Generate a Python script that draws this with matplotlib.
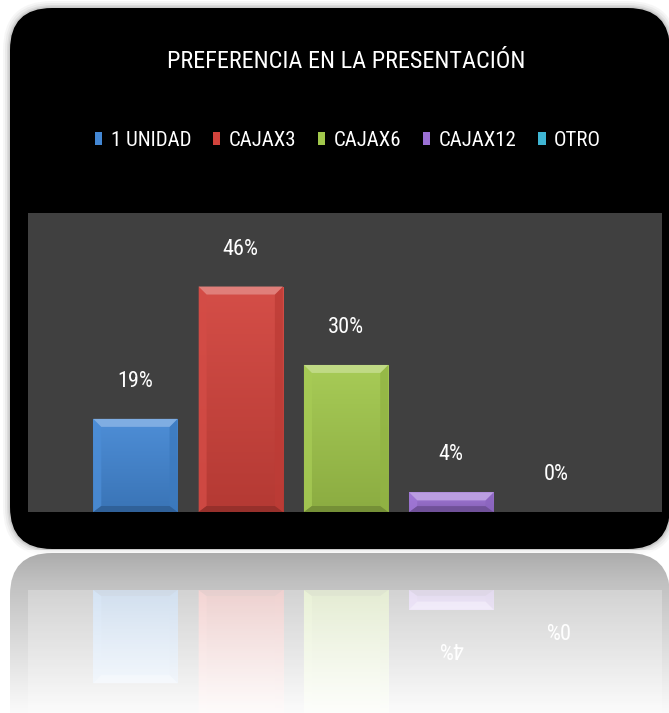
import numpy as np
import matplotlib
matplotlib.use("Agg")
import matplotlib.pyplot as plt
from matplotlib.patches import FancyBboxPatch, Polygon, Patch
from matplotlib import font_manager
from matplotlib.colors import to_rgb

# ---- data ---------------------------------------------------------------
title = "PREFERENCIA EN LA PRESENTACIÓN"
categories = ["1 UNIDAD", "CAJAX3", "CAJAX6", "CAJAX12", "OTRO"]
values = [19, 46, 30, 4, 0]          # percent of answers
colors = ["#4387d4", "#d2433c", "#a2c84c", "#9b70d4", "#3fb5d3"]
y_max = 61

# ---- fonts --------------------------------------------------------------
_names = {f.name for f in font_manager.fontManager.ttflist}
NARROW = next((n for n in ["Liberation Sans Narrow", "DejaVu Sans Condensed",
                           "Roboto Condensed", "Open Sans Condensed"]
               if n in _names), "Liberation Sans")

W, H = 669, 713
fig = plt.figure(figsize=(W / 100, H / 100), dpi=100, facecolor="white")


def frac(x0, y0, x1, y1):
    """pixel box (top-left origin) -> figure fraction rect"""
    return [x0 / W, 1 - y1 / H, (x1 - x0) / W, (y1 - y0) / H]


# ---- background panel (pixel space) ------------------------------------
bg = fig.add_axes([0, 0, 1, 1])
bg.set_xlim(0, W)
bg.set_ylim(H, 0)
bg.axis("off")

# soft halo around the black card
for pad, a in [(7, 0.05), (5, 0.07), (3, 0.10), (1.5, 0.14)]:
    bg.add_patch(FancyBboxPatch((10, 8), 660, 541,
                                boxstyle=f"round,pad={pad},rounding_size={42 + pad}",
                                facecolor="#606060", edgecolor="none", alpha=a))
bg.add_patch(FancyBboxPatch((10, 8), 660, 541,
                            boxstyle="round,pad=0,rounding_size=42",
                            facecolor="black", edgecolor="none"))
# mirrored card below
bg.add_patch(FancyBboxPatch((10, 553), 660, 400,
                            boxstyle="round,pad=0,rounding_size=42",
                            facecolor="black", edgecolor="none"))

fig.text(346 / W, 1 - 62 / H, title, color="white", ha="center", va="center",
         fontsize=17.5, family=NARROW)

handles = [Patch(facecolor=c, edgecolor="none") for c in colors]
fig.legend(handles, categories, loc="center", bbox_to_anchor=(348 / W, 1 - 140 / H),
           ncol=5, frameon=False, handlelength=0.35, handleheight=0.6,
           handletextpad=0.4, columnspacing=1.05, labelcolor="white",
           prop={"family": NARROW, "size": 15})

x = np.arange(len(categories))
BAR_W = 0.8
AX_TOP, AX_BOT = 213, 512          # pixel rows of the plot area
REF_TOP = 590                      # baseline row of the reflection


def shade(c, f):
    r = np.array(to_rgb(c))
    return tuple(np.clip(r + (1 - r) * f if f > 0 else r * (1 + f), 0, 1))


def draw_chart(ax, mirrored=False):
    ax.set_facecolor("#404040")
    for s in ax.spines.values():
        s.set_visible(False)
    ax.set_xticks([])
    ax.set_yticks([])

    pos = ax.get_position()
    wpx, hpx = pos.width * W, pos.height * H
    dx = 8 * 6.02 / wpx
    dy_top = 8 * y_max / hpx
    dy_bot = 6 * y_max / hpx

    bars = ax.bar(x, values, width=BAR_W, color=colors, linewidth=0, zorder=2)
    for xi, v, c, b in zip(x, values, colors, bars):
        if v <= 0:
            continue
        x0, x1 = xi - BAR_W / 2, xi + BAR_W / 2
        grad = np.linspace(0, 1, 64)[:, None, None]
        top_c = np.array(shade(c, 0.06))
        bot_c = np.array(shade(c, -0.14))
        img = top_c * (1 - grad) + bot_c * grad
        im = ax.imshow(img, extent=[x0, x1, 0, v], origin="upper",
                       aspect="auto", zorder=2.1, interpolation="bilinear")
        im.set_clip_path(b)
        dt = min(dy_top, v * 0.45)
        db = min(dy_bot, v * 0.3)
        ax.add_patch(Polygon([(x0, v), (x1, v), (x1 - dx, v - dt), (x0 + dx, v - dt)],
                             closed=True, facecolor=shade(c, 0.32), edgecolor="none",
                             zorder=2.3))
        ax.add_patch(Polygon([(x0, 0), (x1, 0), (x1 - dx, db), (x0 + dx, db)],
                             closed=True, facecolor=shade(c, -0.28), edgecolor="none",
                             zorder=2.3))
        ax.add_patch(Polygon([(x0, 0), (x0, v), (x0 + dx, v - dt), (x0 + dx, db)],
                             closed=True, facecolor=shade(c, 0.05), edgecolor="none",
                             zorder=2.2, alpha=0.8))
        ax.add_patch(Polygon([(x1, 0), (x1, v), (x1 - dx, v - dt), (x1 - dx, db)],
                             closed=True, facecolor=shade(c, -0.1), edgecolor="none",
                             zorder=2.2, alpha=0.8))
    ax.set_xlim(-1.02, 5.0)
    if mirrored:
        ax.set_ylim(y_max, 0)
    else:
        ax.set_ylim(0, y_max)

    for xi, v in zip(x, values):
        if mirrored:
            # only the labels that land inside the visible part of the reflection
            row = REF_TOP + v / y_max * (AX_BOT - AX_TOP) + 38
            if row > H - 30:
                continue
            ax.annotate(f"{v}%", (xi, v), xytext=(0, -27), textcoords="offset points",
                        ha="center", va="center", color="white", fontsize=16,
                        family=NARROW, rotation=180, zorder=3)
        else:
            ax.annotate(f"{v}%", (xi, v), xytext=(0, 27), textcoords="offset points",
                        ha="center", va="center", color="white", fontsize=16,
                        family=NARROW, zorder=3)


ax = fig.add_axes(frac(28, AX_TOP, 662, AX_BOT))
draw_chart(ax)

ax_ref = fig.add_axes(frac(28, REF_TOP, 662, REF_TOP + (AX_BOT - AX_TOP)))
draw_chart(ax_ref, mirrored=True)

# fading veil over the reflection
veil = fig.add_axes(frac(0, 550, W, H))
veil.axis("off")
alpha = np.concatenate([np.linspace(0.67, 0.76, 40), np.linspace(0.76, 0.985, 160)])
rgba = np.ones((200, 1, 4))
rgba[:, 0, 3] = alpha
veil.imshow(rgba, extent=[0, 1, 0, 1], aspect="auto", origin="upper",
            interpolation="bilinear")
veil.set_xlim(0, 1)
veil.set_ylim(0, 1)

fig.savefig("out.png", dpi=100, facecolor="white")
